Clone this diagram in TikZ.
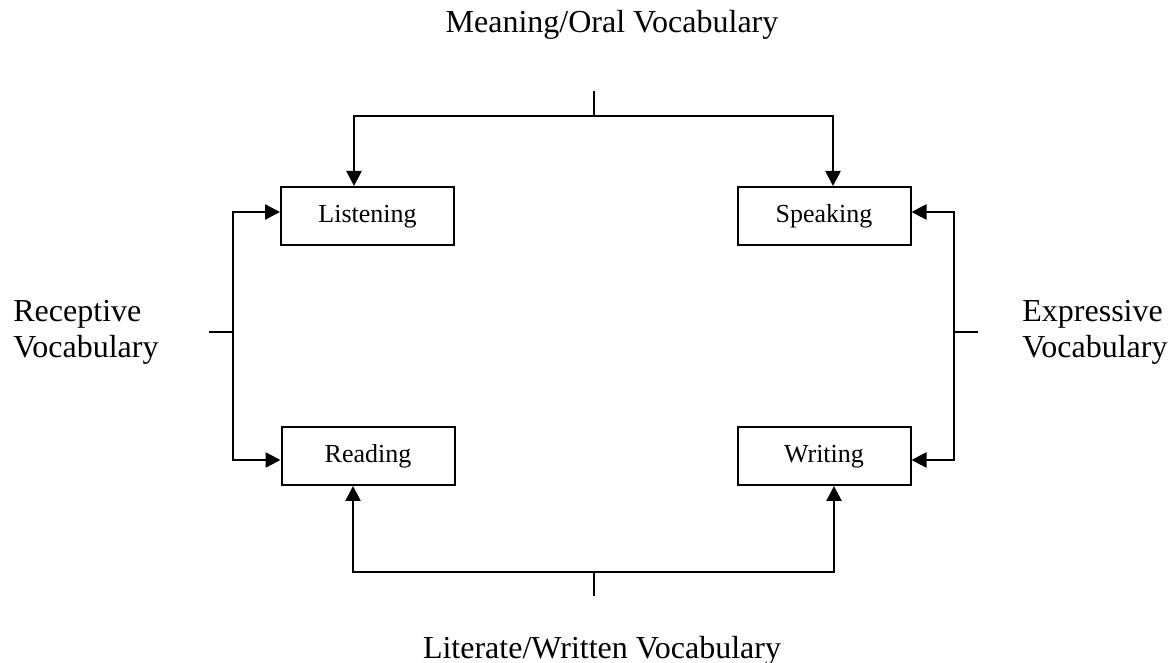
\documentclass[tikz,border=0pt]{standalone}
\usepackage{fontspec}
\setmainfont{Liberation Serif}
\usepackage{tikz}
\usetikzlibrary{positioning,arrows.meta}
\tikzstyle{skill} = [rectangle, draw=black, line width=1pt, minimum width=86.5pt,
                     minimum height=29pt, text centered, text height=9pt, text depth=2.6pt,
                     font=\fontsize{13}{15}\selectfont]
\tikzstyle{arrow} = [line width=1.3pt,-{Triangle[length=7.5pt,width=7.5pt]}]

\begin{document}
\begin{tikzpicture}[
			x=1pt,y=1pt,
			vocab/.style={inner sep=0pt,font=\fontsize{16}{18}\selectfont},
			tick/.style={line width=1pt}
		]
		\useasboundingbox (0,0) rectangle (586,331.5);
		\node[skill] (L) at (183.75,223.5) {Listening};
		\node[skill] (S) at (412,223.5) {Speaking};
		\node[skill] (R) at (184,103.5) {Reading};
		\node[skill] (W) at (412,103.5) {Writing};

		\node[vocab,anchor=base] (meaning) at (306,315) {Meaning/Oral Vocabulary};
		\node[vocab,anchor=base] (literate) at (301,2) {Literate/Written Vocabulary};
		% base is the last line here
		\node[vocab,anchor=base west,align=left] (receptive) at (6.5,152.5) {Receptive\\Vocabulary};
		\node[vocab,anchor=base west,align=left] (expressive) at (511,152.5) {Expressive\\Vocabulary};

		\coordinate (mt) at (297,273.5);
		\coordinate (lt) at (297,45.5);
		\coordinate (rt) at (116.5,165.5);
		\coordinate (et) at (477,165.5);

		\draw[tick] (mt) -- ++(0,12.5);
		\draw[tick] (lt) -- ++(0,-12);
		\draw[tick] (rt) -- ++(-12,0);
		\draw[tick] (et) -- ++(12,0);

		\draw[arrow] (mt) -| ([xshift=-6.75pt]L.north);
		\draw[arrow] (mt) -| ([xshift=4.5pt]S.north);
		\draw[arrow] (lt) -| ([xshift=-7.5pt]R.south);
		\draw[arrow] (lt) -| ([xshift=5pt]W.south);
		\draw[arrow] (rt) |- ([yshift=2pt]L.west);
		\draw[arrow] (rt) |- ([yshift=-2pt]R.west);
		\draw[arrow] (et) |- ([yshift=2pt]S.east);
		\draw[arrow] (et) |- ([yshift=-2pt]W.east);
	\end{tikzpicture}
\end{document}
